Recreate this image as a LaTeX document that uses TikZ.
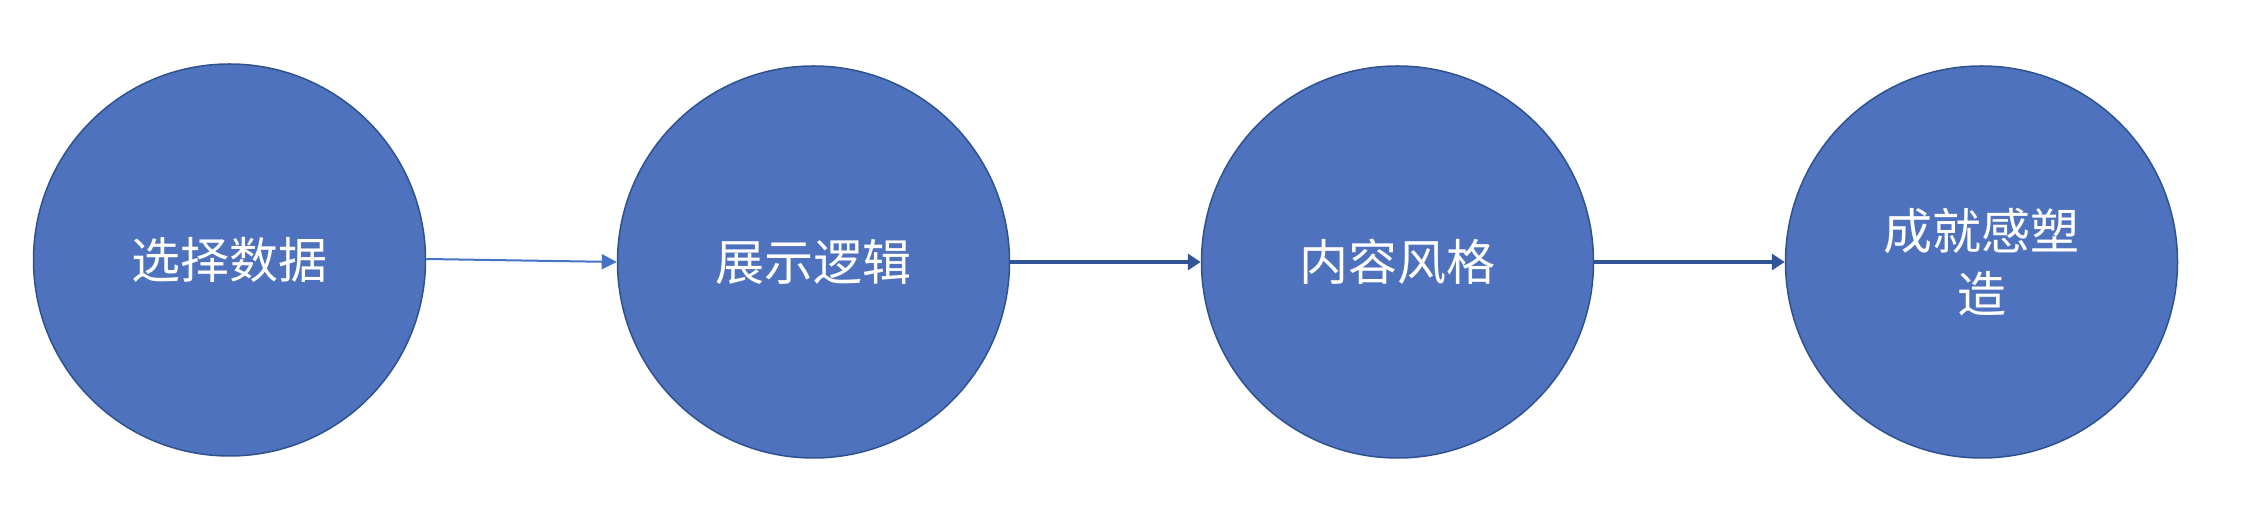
\documentclass[tikz,border=0pt]{standalone}
\usepackage{fontspec}
\newfontfamily\cjk{Noto Sans CJK SC}
\usetikzlibrary{arrows.meta}
\definecolor{fillblue}{HTML}{4E72BD}
\definecolor{edgeblue}{HTML}{2F528F}
\definecolor{lightarrow}{HTML}{4472C4}
\definecolor{darkarrow}{HTML}{2F5597}
\tikzset{
  stepcircle/.style={circle, fill=fillblue, draw=edgeblue, line width=1.5pt,
    minimum size=392pt, inner sep=0pt, text=white, align=center,
    font=\cjk\fontsize{49}{63}\selectfont},
  thinarrow/.style={draw=lightarrow, line width=2pt,
    -{Triangle[length=15pt,width=15pt]}},
  thickarrow/.style={draw=darkarrow, line width=4pt,
    -{Triangle[length=13pt,width=16pt]}}
}
\begin{document}
\begin{tikzpicture}[x=1pt,y=1pt]
\useasboundingbox (0,0) rectangle (2250,510);
\node[stepcircle] (c1) at (229.5,250) {选择数据};
\node[stepcircle] (c2) at (813.5,248) {展示逻辑};
\node[stepcircle] (c3) at (1397.5,248) {内容风格};
\node[stepcircle] (c4) at (1981.5,248) {成就感塑\\造};
\draw[thinarrow] ([yshift=1pt]c1.east) -- ([yshift=0pt]c2.west);
\draw[thickarrow] (c2.east) -- (c3.west);
\draw[thickarrow] (c3.east) -- (c4.west);
\end{tikzpicture}
\end{document}
